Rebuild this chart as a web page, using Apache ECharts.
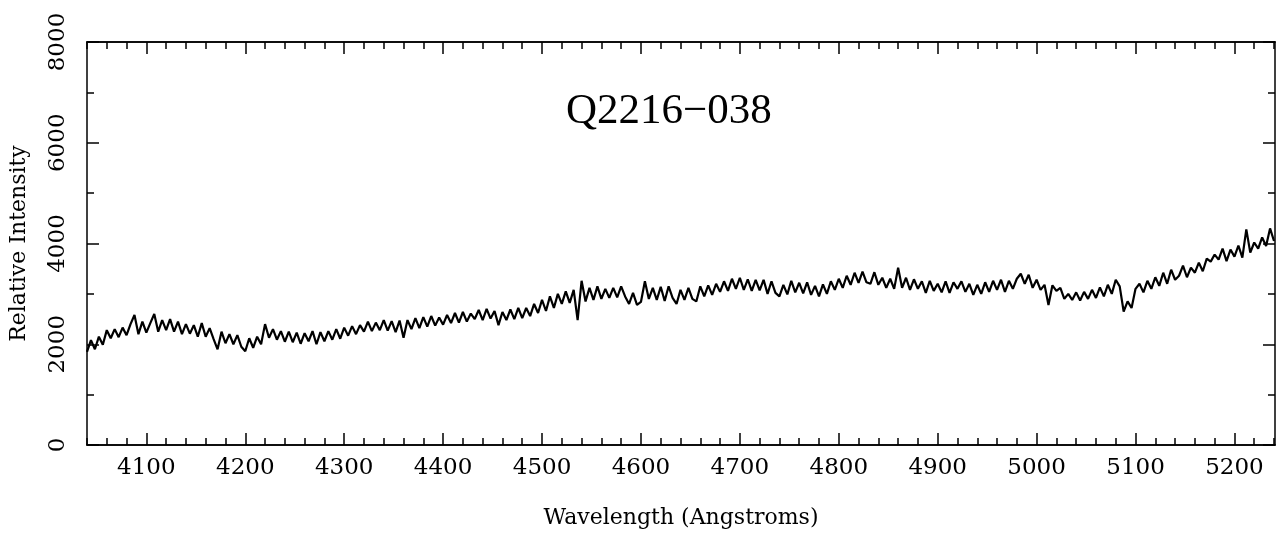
<!DOCTYPE html>
<html>
<head>
<meta charset="utf-8">
<script src="https://cdn.jsdelivr.net/npm/echarts@6/dist/echarts.min.js"></script>
<style>
html,body{margin:0;padding:0;background:#fff;}
#chart{width:1282px;height:539px;}
</style>
</head>
<body>
<div id="chart"></div>
<script>
// Wavelength grid: 4040 .. 5240 Angstroms, step 4
const waveStart = 4040;
const waveStep = 4;
// Relative intensity (rows of 10 points = 40 Angstroms)
const intensity = [
  1850, 2080, 1900, 2150, 1990, 2280, 2120, 2300, 2140, 2330,
  2180, 2400, 2580, 2200, 2450, 2230, 2420, 2600, 2250, 2480,
  2280, 2500, 2250, 2450, 2200, 2400, 2210, 2380, 2150, 2420,
  2150, 2320, 2100, 1900, 2250, 2020, 2200, 2000, 2180, 1950,
  1860, 2120, 1930, 2150, 2000, 2400, 2130, 2300, 2090, 2260,
  2050, 2250, 2040, 2230, 2010, 2220, 2060, 2260, 2000, 2240,
  2060, 2260, 2090, 2300, 2110, 2330, 2170, 2360, 2200, 2380,
  2250, 2450, 2260, 2430, 2280, 2480, 2270, 2460, 2240, 2470,
  2130, 2480, 2300, 2520, 2320, 2540, 2350, 2560, 2370, 2530,
  2390, 2580, 2420, 2620, 2430, 2640, 2450, 2610, 2500, 2680,
  2480, 2700, 2510, 2660, 2380, 2640, 2480, 2690, 2500, 2720,
  2520, 2720, 2560, 2800, 2620, 2880, 2660, 2950, 2720, 3000,
  2800, 3050, 2820, 3080, 2480, 3260, 2850, 3120, 2880, 3150,
  2900, 3100, 2920, 3120, 2930, 3150, 2950, 2800, 3020, 2780,
  2840, 3250, 2900, 3120, 2880, 3140, 2860, 3150, 2920, 2800,
  3080, 2880, 3120, 2900, 2850, 3150, 2950, 3170, 2980, 3200,
  3040, 3250, 3060, 3300, 3100, 3320, 3080, 3290, 3060, 3280,
  3070, 3280, 3000, 3250, 3020, 2950, 3180, 2990, 3260, 3030,
  3220, 3010, 3230, 2980, 3160, 2950, 3190, 3000, 3250, 3080,
  3300, 3120, 3360, 3180, 3420, 3220, 3440, 3230, 3200, 3430,
  3180, 3320, 3120, 3300, 3100, 3520, 3120, 3320, 3080, 3290,
  3100, 3250, 3020, 3260, 3060, 3200, 3030, 3250, 3020, 3230,
  3100, 3250, 3040, 3200, 2980, 3180, 3000, 3230, 3040, 3260,
  3080, 3280, 3040, 3260, 3100, 3300, 3400, 3200, 3380, 3120,
  3280, 3080, 3180, 2780, 3170, 3060, 3120, 2900, 3000, 2880,
  3030, 2870, 3040, 2900, 3080, 2920, 3130, 2950, 3180, 3000,
  3280, 3150, 2650, 2850, 2720, 3100, 3200, 3030, 3260, 3100,
  3330, 3160, 3420, 3200, 3480, 3280, 3360, 3560, 3330, 3520,
  3420, 3620, 3450, 3700, 3640, 3780, 3680, 3900, 3650, 3880,
  3740, 3960, 3720, 4280, 3820, 4020, 3900, 4120, 3950, 4300,
  4050
];
const xMajorTicks = [4100, 4200, 4300, 4400, 4500, 4600, 4700, 4800, 4900, 5000, 5100, 5200];
const xMinorStep = 20;
const yTickLabels = [0, 2000, 4000, 6000, 8000];
const title = 'Q2216\u2212038';

const xMin = 4040, xMax = 5241;
const data = intensity.map((v, i) => [waveStart + i * waveStep, v]);
const xMinor = [];
for (let w = xMin; w <= xMax; w += xMinorStep) xMinor.push(w);

const serif = 'DejaVu Serif';
const axisLine = {show: true, lineStyle: {color: '#000', width: 1.5}};

function xAxisDef(pos, values, len, labels) {
  return {
    type: 'value', position: pos, min: xMin, max: xMax,
    axisLine: axisLine,
    splitLine: {show: false},
    axisTick: {show: true, inside: true, length: len, customValues: values, lineStyle: {color: '#000', width: 1.5}},
    axisLabel: labels ? {show: true, customValues: values, color: '#000', fontFamily: serif, fontSize: 23, margin: 12,
      formatter: v => String(v)} : {show: false}
  };
}

const option = {
  backgroundColor: '#fff',
  animation: false,
  title: {
    text: title, left: 561, top: 85,
    textStyle: {fontFamily: 'Liberation Serif', fontSize: 43, fontWeight: 'normal', color: '#000'}
  },
  grid: {left: 83, right: 7, top: 42, bottom: 94, containLabel: false},
  xAxis: [
    Object.assign(xAxisDef('bottom', xMajorTicks, 12, true), {
      name: 'Wavelength (Angstroms)', nameLocation: 'middle', nameGap: 62,
      nameTextStyle: {fontFamily: serif, fontSize: 22, color: '#000'}
    }),
    xAxisDef('bottom', xMinor, 7, false),
    xAxisDef('top', xMajorTicks, 12, false),
    xAxisDef('top', xMinor, 7, false)
  ],
  yAxis: [
    {
      type: 'value', position: 'left', min: 0, max: 8000, interval: 2000,
      name: 'Relative Intensity', nameLocation: 'middle', nameGap: 57,
      nameTextStyle: {fontFamily: serif, fontSize: 22, color: '#000'},
      axisLine: axisLine, splitLine: {show: false},
      axisTick: {show: true, inside: true, length: 12, lineStyle: {color: '#000', width: 1.5}},
      minorTick: {show: true, splitNumber: 2, length: 7, lineStyle: {color: '#000', width: 1.5}},
      axisLabel: {show: true, rotate: 90, color: '#000', fontFamily: serif, fontSize: 23, margin: 17,
        formatter: v => yTickLabels.indexOf(v) >= 0 ? String(v) : ''}
    },
    {
      type: 'value', position: 'right', min: 0, max: 8000, interval: 2000,
      axisLine: axisLine, splitLine: {show: false},
      axisTick: {show: true, inside: true, length: 12, lineStyle: {color: '#000', width: 1.5}},
      minorTick: {show: true, splitNumber: 2, length: 7, lineStyle: {color: '#000', width: 1.5}},
      axisLabel: {show: false}
    }
  ],
  series: [{
    type: 'line', xAxisIndex: 0, yAxisIndex: 0, data: data,
    showSymbol: false, symbol: 'none',
    lineStyle: {color: '#000', width: 2.2}
  }]
};

const chart = echarts.init(document.getElementById('chart'), null, {renderer: 'canvas'});
chart.setOption(option);
</script>
</body>
</html>
